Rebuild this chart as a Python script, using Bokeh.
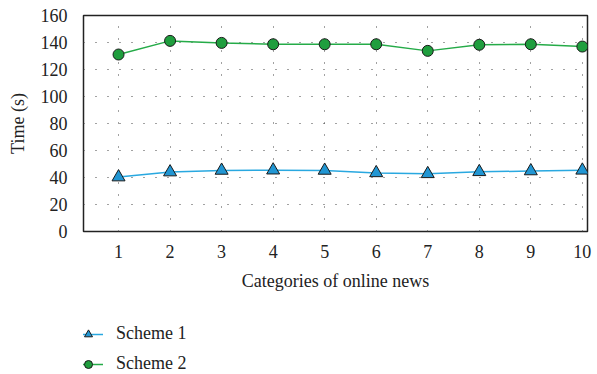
from bokeh.plotting import figure
from bokeh.layouts import column
from bokeh.models import Range1d, FixedTicker, Legend, LegendItem
from bokeh.embed import file_html
from bokeh.resources import INLINE

# Processing time per category of online news
categories = [1, 2, 3, 4, 5, 6, 7, 8, 9, 10]
scheme1 = [40.3, 44.0, 45.2, 45.4, 45.2, 43.4, 42.7, 44.2, 44.8, 45.3]
scheme2 = [131.1, 141.2, 139.7, 138.7, 138.7, 138.7, 133.8, 138.3, 138.7, 137.0]
y_ticks = [0, 20, 40, 60, 80, 100, 120, 140, 160]

FONT = "Liberation Serif"
BLUE_LINE = "#29a8e0"
BLUE_FILL = "#2196d3"
GREEN_LINE = "#25ab48"
GREEN_FILL = "#1f9e3e"
EDGE = "#1a1a1a"


def draw_series(fig):
    l1 = fig.line(categories, scheme1, line_color=BLUE_LINE, line_width=1.5)
    m1 = fig.scatter(categories, scheme1, marker="triangle", size=13,
                     fill_color=BLUE_FILL, line_color=EDGE, line_width=1)
    l2 = fig.line(categories, scheme2, line_color=GREEN_LINE, line_width=1.5)
    m2 = fig.scatter(categories, scheme2, marker="circle", size=11,
                     fill_color=GREEN_FILL, line_color=EDGE, line_width=1)
    return (l1, m1), (l2, m2)


p = figure(
    frame_width=504, frame_height=216,
    min_border_left=83, min_border_right=10, min_border_top=15, min_border_bottom=60,
    x_range=Range1d(0.32, 10.1), y_range=Range1d(0, 160),
    output_backend="svg", toolbar_location=None,
)
p.outline_line_color = "#222222"
p.outline_line_width = 1.5

for ax in (p.xaxis[0], p.yaxis[0]):
    ax.axis_line_color = None
    ax.major_tick_line_color = None
    ax.minor_tick_line_color = None
    ax.major_label_text_font = FONT
    ax.major_label_text_font_size = "18px"
    ax.major_label_text_color = "#222222"
    ax.axis_label_text_font = FONT
    ax.axis_label_text_font_size = "18px"
    ax.axis_label_text_font_style = "normal"
    ax.axis_label_text_color = "#222222"

p.xaxis.ticker = FixedTicker(ticks=categories)
p.yaxis.ticker = FixedTicker(ticks=y_ticks)
p.xaxis.axis_label = "Categories of online news"
p.yaxis.axis_label = "Time (s)"
p.xaxis.major_label_standoff = 7
p.yaxis.major_label_standoff = 10
p.xaxis.axis_label_standoff = 10
p.yaxis.axis_label_standoff = 10

for g in (p.xgrid, p.ygrid):
    g.grid_line_color = "#444444"
    g.grid_line_dash = "1 11"
    g.grid_line_width = 1

draw_series(p)

# Legend strip underneath the chart; its series sit outside the visible range
leg_fig = figure(
    width=597, height=81,
    min_border_left=0, min_border_right=0, min_border_top=0, min_border_bottom=0,
    x_axis_location=None, y_axis_location=None,
    x_range=Range1d(0, 1), y_range=Range1d(1000, 1001),
    output_backend="svg", toolbar_location=None,
)
leg_fig.grid.visible = False
leg_fig.outline_line_color = None
(s1, s2) = draw_series(leg_fig)

legend = Legend(
    items=[
        LegendItem(label="Scheme 1", renderers=list(s1)),
        LegendItem(label="Scheme 2", renderers=list(s2)),
    ],
    location=(-10, 0),
    orientation="vertical",
    label_text_font=FONT,
    label_text_font_size="18px",
    label_text_color="#222222",
    glyph_width=30,
    glyph_height=20,
    label_standoff=13,
    spacing=9,
    padding=0,
    margin=0,
    border_line_color=None,
    background_fill_alpha=0,
)
leg_fig.add_layout(legend, "center")

layout = column(p, leg_fig, spacing=0)
open("out.html", "w").write(file_html(layout, INLINE))
